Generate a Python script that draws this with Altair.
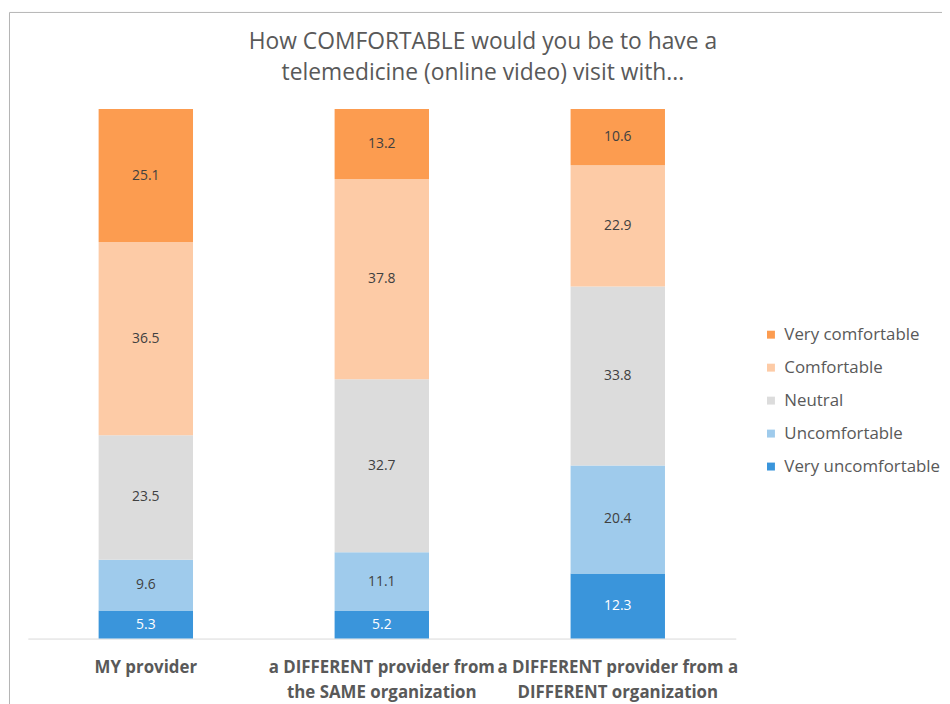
import altair as alt
import pandas as pd

# ---- data ----
title_lines = ["How COMFORTABLE would you be to have a", "telemedicine (online video) visit with..."]

category_lines = [
    ["MY provider"],
    ["a DIFFERENT provider from", "the SAME organization"],
    ["a DIFFERENT provider from a", "DIFFERENT organization"],
]
categories = ["\n".join(c) for c in category_lines]

# bottom -> top stacking order
levels = ["Very uncomfortable", "Uncomfortable", "Neutral", "Comfortable", "Very comfortable"]

my_provider = [5.3, 9.6, 23.5, 36.5, 25.1]
same_org = [5.2, 11.1, 32.7, 37.8, 13.2]
different_org = [12.3, 20.4, 33.8, 22.9, 10.6]
series = [my_provider, same_org, different_org]

legend_order = ["Very comfortable", "Comfortable", "Neutral", "Uncomfortable", "Very uncomfortable"]
legend_colors = ["#FC9C50", "#FDCBA6", "#DCDCDC", "#9FCBEC", "#3A95DB"]

rows = []
for cat, vals in zip(categories, series):
    for rank, (lvl, v) in enumerate(zip(levels, vals)):
        rows.append({"cat": cat, "level": lvl, "rank": rank, "value": v})
df = pd.DataFrame(rows)

FONT = "Open Sans"
GRAY = "#595959"

base = (
    alt.Chart(df)
    .transform_stack(
        stack="value",
        groupby=["cat"],
        sort=[alt.SortField("rank", order="ascending")],
        as_=["y0", "y1"],
    )
    .transform_calculate(mid="(datum.y0 + datum.y1) / 2")
)

x_enc = alt.X(
    "cat:N",
    sort=categories,
    scale=alt.Scale(paddingInner=0, paddingOuter=0),
    axis=alt.Axis(
        title=None,
        labelAngle=0,
        ticks=False,
        domainColor="#D9D9D9",
        domainWidth=1,
        labelFont=FONT,
        labelFontSize=17,
        labelFontWeight="bold",
        labelColor=GRAY,
        labelPadding=21,
        labelLineHeight=25,
        labelLimit=400,
        labelExpr="split(datum.label, '\\n')",
    ),
)

bars = base.mark_bar(width={"band": 0.4}).encode(
    x=x_enc,
    y=alt.Y("y0:Q", scale=alt.Scale(domain=[0, 100]), axis=None),
    y2="y1:Q",
    color=alt.Color(
        "level:N",
        scale=alt.Scale(domain=legend_order, range=legend_colors),
        legend=alt.Legend(
            title=None,
            orient="none",
            legendX=741,
            legendY=219,
            symbolType="square",
            symbolSize=64,
            symbolStrokeWidth=0,
            labelFont=FONT,
            labelFontSize=17,
            labelColor=GRAY,
            labelOffset=5,
            labelLimit=300,
            rowPadding=15.25,
            padding=0,
        ),
    ),
)

labels = base.mark_text(font=FONT, fontSize=14).encode(
    x=alt.X("cat:N", sort=categories),
    y=alt.Y("mid:Q", scale=alt.Scale(domain=[0, 100])),
    text=alt.Text("value:Q", format=".1f"),
    color=alt.condition(
        alt.datum.level == "Very uncomfortable", alt.value("white"), alt.value("#404040")
    ),
)

title = alt.Chart(pd.DataFrame({"a": [0]})).mark_text(
    text=title_lines,
    font=FONT,
    fontSize=23,
    color=GRAY,
    lineHeight=32,
    align="center",
    baseline="middle",
).encode(x=alt.value(459), y=alt.value(-68))

border = alt.Chart(pd.DataFrame({"a": [0]})).mark_rect(
    fill="transparent", stroke="#B4B4B4", strokeWidth=1
).encode(
    x=alt.value(-18.5), x2=alt.value(1100), y=alt.value(-97.5), y2=alt.value(1100)
)

chart = (
    alt.layer(border, title, bars, labels)
    .properties(
        width=714,
        height=534,
        padding={"left": 20, "top": 99, "right": 208, "bottom": 63},
        autosize=alt.AutoSizeParams(type="none"),
    )
    .configure_view(stroke=None)
)

chart.save("out.html", embed_options={"renderer": "svg", "actions": False})
